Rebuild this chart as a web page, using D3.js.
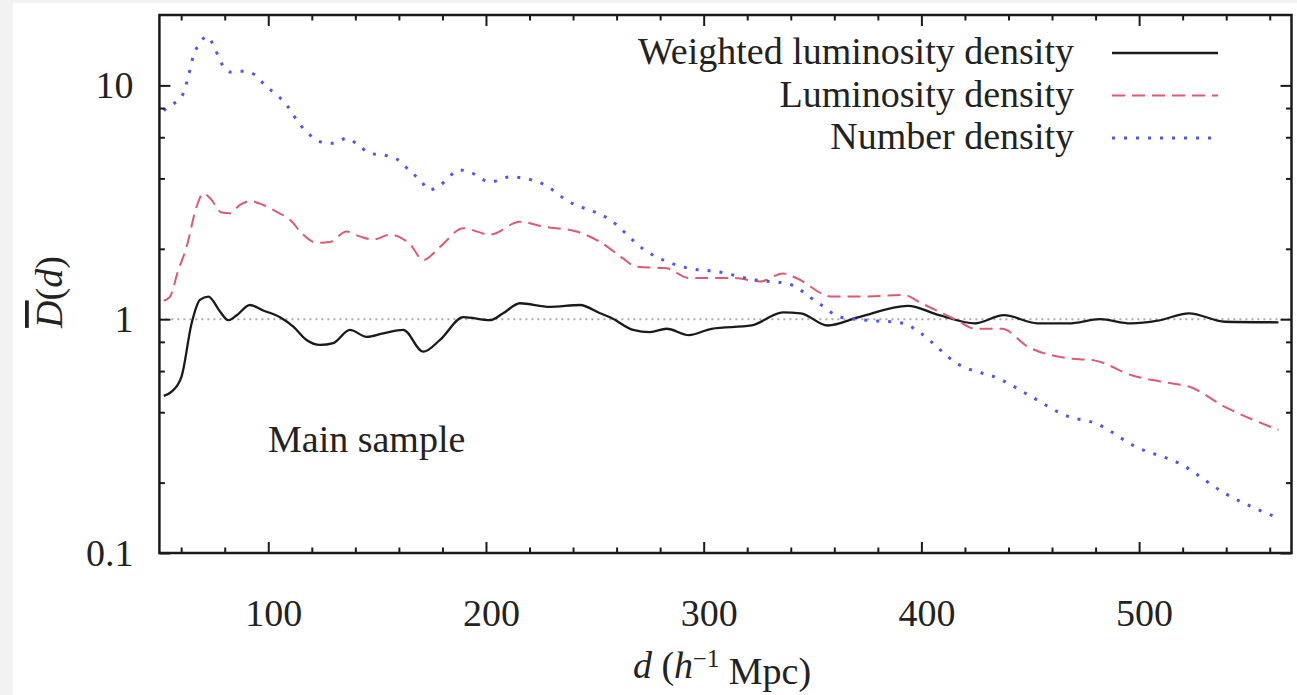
<!DOCTYPE html>
<html>
<head>
<meta charset="utf-8">
<script src="https://cdn.jsdelivr.net/npm/d3@7"></script>
<style>
  body { margin: 0; background: #f2f2f2; }
  svg { display: block; }
  text { font-family: "Liberation Serif", "Times New Roman", serif; fill: #222; }
</style>
</head>
<body>
<svg id="chart"></svg>
<script>
let width = 1297
let height = 695
let margin = { left: 159.4, right: 1297 - 1291.5, top: 15, bottom: 695 - 553 }

// weighted luminosity density (solid black)
let weightedX = [52, 55.6, 60.2, 64.8, 68.6, 72.5, 77.8, 81.6, 85.5, 91.6, 97.7, 105.4, 111.5, 117.6, 123.8, 129.9, 137.5, 145.2, 152.8, 162, 171.2, 178.9, 189.6, 201.8, 207.9, 215.6, 229.4, 243.2, 252.4, 257, 267.6, 275.3, 283, 293.2, 303.6, 322, 336.4, 344.6, 356.9, 371.3, 393.8, 408.2, 424.6, 437.9, 453.3, 467.6, 482, 496.2, 508.6, 522.9, 539.4, 564]
let weightedY = [0.47, 0.49, 0.57, 0.96, 1.21, 1.25, 1.08, 0.99, 1.04, 1.15, 1.09, 1.02, 0.93, 0.815, 0.776, 0.79, 0.9, 0.84, 0.87, 0.9, 0.726, 0.815, 1.02, 0.99, 1.06, 1.17, 1.13, 1.15, 1.06, 1.02, 0.9, 0.88, 0.91, 0.855, 0.91, 0.94, 1.07, 1.06, 0.94, 1.02, 1.14, 1.04, 0.96, 1.04, 0.96, 0.96, 1.0, 0.96, 0.985, 1.06, 0.975, 0.97]

// luminosity density (red dashed)
let lumX = [52, 54.9, 58.5, 62.5, 67.1, 70.2, 73.2, 78.6, 82.4, 87, 91.6, 97.7, 103.9, 110, 116, 122.2, 128.3, 136, 142, 148.2, 156, 165, 171.2, 178.9, 189.6, 201.8, 215.6, 226.3, 241.6, 252.4, 263, 268.7, 283, 293.2, 313.8, 326, 336.4, 342.5, 358.9, 375.4, 391.8, 400, 416.3, 424.6, 436.9, 449.2, 467.6, 479.9, 496.2, 514.8, 522.9, 539.4, 564]
let lumY = [1.2, 1.25, 1.6, 2.04, 3.03, 3.45, 3.3, 2.86, 2.84, 3.08, 3.2, 3.08, 2.88, 2.66, 2.3, 2.12, 2.14, 2.37, 2.26, 2.19, 2.3, 2.1, 1.79, 2.04, 2.45, 2.3, 2.61, 2.49, 2.37, 2.14, 1.82, 1.68, 1.65, 1.5, 1.5, 1.45, 1.57, 1.5, 1.25, 1.25, 1.27, 1.17, 0.99, 0.91, 0.91, 0.76, 0.68, 0.665, 0.577, 0.532, 0.515, 0.422, 0.336]

// number density (blue dotted)
let numX = [52, 54, 60.2, 64, 65.5, 68.6, 71.7, 75.5, 77.8, 82.4, 87.8, 93.9, 98.5, 103.9, 108.5, 111.5, 115.4, 119.2, 123.8, 129.9, 136, 141.3, 146.7, 152.8, 159.7, 165, 169.8, 174, 179, 188, 192.8, 202, 211, 218, 227, 237, 257, 272.8, 293.2, 305.6, 324, 338.5, 352.8, 363, 375.4, 391.8, 399.7, 416, 436.9, 449.2, 467.6, 479.9, 498.4, 518.7, 539.4, 564]
let numY = [7.8, 8.1, 8.95, 11.6, 13.3, 15.1, 16.2, 14.4, 12.8, 11.4, 11.5, 11.1, 10.0, 9.1, 8.24, 7.47, 6.66, 6.13, 5.74, 5.65, 5.94, 5.56, 5.12, 5.04, 4.8, 4.3, 3.94, 3.57, 3.75, 4.35, 4.25, 3.86, 4.06, 4.0, 3.75, 3.23, 2.66, 1.98, 1.65, 1.6, 1.47, 1.42, 1.17, 1.02, 0.99, 0.96, 0.87, 0.65, 0.55, 0.474, 0.383, 0.359, 0.285, 0.241, 0.18, 0.141]

let xMajor = [100, 200, 300, 400, 500]
let xMinor = [60, 80, 120, 140, 160, 180, 220, 240, 260, 280, 320, 340, 360, 380, 420, 440, 460, 480, 520, 540, 560]
let yMajor = [0.1, 1, 10]
let yMinor = [0.2, 0.4, 0.6, 0.8, 2, 4, 6, 8]

let seriesNames = ['Weighted luminosity density', 'Luminosity density', 'Number density']

let fontSize = 38

let xScale = d3.scaleLinear()
                .domain([50, 570])
                .range([margin.left, width - margin.right])

let yScale = d3.scaleLog()
                .domain([0.1, 20])
                .range([height - margin.bottom, margin.top])

let svg = d3.select('#chart')
    .attr('width', width)
    .attr('height', height)

svg.append('rect')
    .attr('x', 13)
    .attr('y', 3)
    .attr('width', width - 13)
    .attr('height', height - 3)
    .attr('fill', '#fff')

let x0 = xScale.range()[0], x1 = xScale.range()[1]
let y0 = yScale.range()[0], y1 = yScale.range()[1]

// reference line at 1
svg.append('line')
    .attr('x1', x0)
    .attr('x2', x1)
    .attr('y1', yScale(1))
    .attr('y2', yScale(1))
    .attr('stroke', '#aaa')
    .attr('stroke-width', 2)
    .attr('stroke-dasharray', '2,4')

let series = [
  { name: seriesNames[0], xs: weightedX, ys: weightedY, color: '#1a1a1a', dash: null, w: 2.3 },
  { name: seriesNames[1], xs: lumX, ys: lumY, color: '#dd5a72', dash: '13,7', w: 2 },
  { name: seriesNames[2], xs: numX, ys: numY, color: '#4f58e6', dash: '3,9', w: 3 }
]

let line = d3.line()
    .x(d => xScale(d[0]))
    .y(d => yScale(d[1]))
    .curve(d3.curveMonotoneX)

series.forEach(s => {
  svg.append('path')
      .attr('d', line(s.xs.map((x, i) => [x, s.ys[i]])))
      .attr('fill', 'none')
      .attr('stroke', s.color)
      .attr('stroke-width', s.w)
      .attr('stroke-dasharray', s.dash)
})

// axes, ticks pointing inward on all four sides
function styleAxis(g) {
  g.select('.domain').remove()
  g.selectAll('.tick line').attr('stroke', '#1a1a1a').attr('stroke-width', 2)
  g.selectAll('text')
    .attr('fill', '#222')
    .style('font-family', '"Liberation Serif", "Times New Roman", serif')
    .style('font-size', fontSize + 'px')
}

svg.append('g')
    .attr('transform', `translate(0, ${y0})`)
    .call(d3.axisBottom(xScale).tickValues(xMajor).tickSize(-11).tickPadding(46).tickFormat(d => d))
    .call(styleAxis)
    .selectAll('text').attr('dx', 5)

svg.append('g')
    .attr('transform', `translate(0, ${y0})`)
    .call(d3.axisBottom(xScale).tickValues(xMinor).tickSize(-5.5).tickFormat(''))
    .call(styleAxis)

svg.append('g')
    .attr('transform', `translate(0, ${y1})`)
    .call(d3.axisTop(xScale).tickValues(xMajor).tickSize(-11).tickFormat(''))
    .call(styleAxis)

svg.append('g')
    .attr('transform', `translate(0, ${y1})`)
    .call(d3.axisTop(xScale).tickValues(xMinor).tickSize(-5.5).tickFormat(''))
    .call(styleAxis)

svg.append('g')
    .attr('transform', `translate(${x0}, 0)`)
    .call(d3.axisLeft(yScale).tickValues(yMajor).tickSize(-11).tickPadding(26).tickFormat(d => String(d)))
    .call(styleAxis)

svg.append('g')
    .attr('transform', `translate(${x0}, 0)`)
    .call(d3.axisLeft(yScale).tickValues(yMinor).tickSize(-5.5).tickFormat(''))
    .call(styleAxis)

svg.append('g')
    .attr('transform', `translate(${x1}, 0)`)
    .call(d3.axisRight(yScale).tickValues(yMajor).tickSize(-11).tickFormat(''))
    .call(styleAxis)

svg.append('g')
    .attr('transform', `translate(${x1}, 0)`)
    .call(d3.axisRight(yScale).tickValues(yMinor).tickSize(-5.5).tickFormat(''))
    .call(styleAxis)

// frame
svg.append('rect')
    .attr('x', x0)
    .attr('y', y1)
    .attr('width', x1 - x0)
    .attr('height', y0 - y1)
    .attr('fill', 'none')
    .attr('stroke', '#1a1a1a')
    .attr('stroke-width', 2.5)

// legend
let legendY = [53, 95.5, 138]
series.forEach((s, i) => {
  svg.append('text')
      .attr('x', 1074)
      .attr('y', legendY[i] + 11)
      .style('text-anchor', 'end')
      .style('font-size', fontSize + 'px')
      .text(s.name)
  svg.append('line')
      .attr('x1', 1112)
      .attr('x2', 1218)
      .attr('y1', legendY[i])
      .attr('y2', legendY[i])
      .attr('stroke', s.color)
      .attr('stroke-width', s.w)
      .attr('stroke-dasharray', s.dash)
})

svg.append('text')
    .attr('x', 268)
    .attr('y', 452)
    .style('font-size', fontSize + 'px')
    .text('Main sample')

// axis titles
let xTitle = svg.append('text')
    .attr('x', 722)
    .attr('y', 678)
    .style('text-anchor', 'middle')
    .style('font-size', fontSize + 'px')
xTitle.append('tspan').style('font-style', 'italic').text('d')
xTitle.append('tspan').text(' (')
xTitle.append('tspan').style('font-style', 'italic').text('h')
xTitle.append('tspan').attr('dy', '-0.45em').style('font-size', '0.65em').text('\u22121')
xTitle.append('tspan').attr('dy', '0.45em').text(' Mpc)')

let yTitle = svg.append('text')
    .attr('transform', `translate(62, 292) rotate(-90)`)
    .style('text-anchor', 'middle')
    .style('font-size', fontSize + 'px')
yTitle.append('tspan').style('font-style', 'italic').style('text-decoration', 'overline').text('D')
yTitle.append('tspan').text('(')
yTitle.append('tspan').style('font-style', 'italic').text('d')
yTitle.append('tspan').text(')')
</script>
</body>
</html>
